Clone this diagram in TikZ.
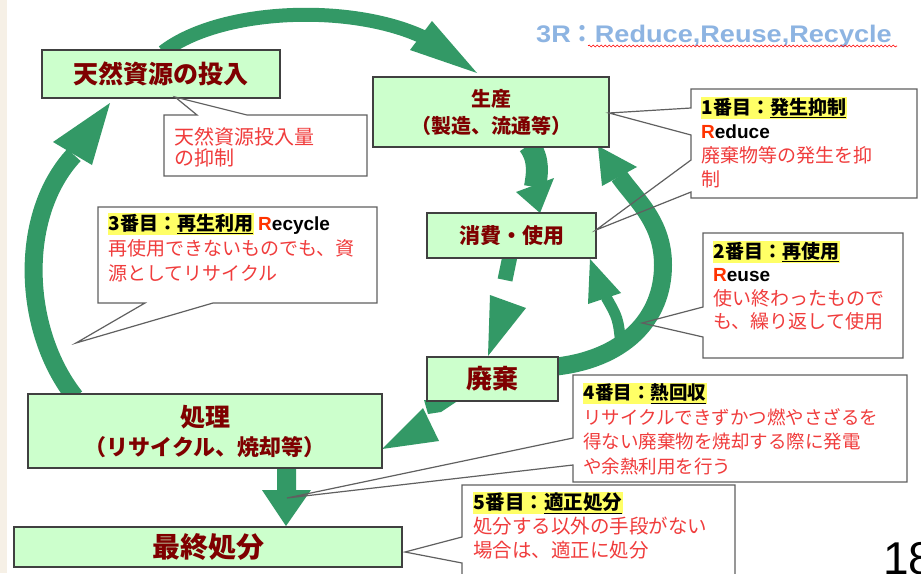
\documentclass[tikz,border=0pt]{standalone}
\usepackage{fontspec}
\setmainfont{Noto Sans CJK JP}
\newfontfamily\latb{Liberation Sans}
\newfontfamily\titlef[FakeStretch=1.13]{Liberation Sans}
\usetikzlibrary{decorations.pathmorphing}
\definecolor{boxgreen}{HTML}{CCFFCC}
\definecolor{boxborder}{HTML}{404040}
\definecolor{lblred}{HTML}{7F0000}
\definecolor{cred}{HTML}{F03C3C}
\definecolor{rred}{HTML}{FF3300}
\definecolor{agreen}{HTML}{339966}
\definecolor{hlyellow}{HTML}{FFFF66}
\definecolor{cgray}{HTML}{606060}
\definecolor{titleblue}{HTML}{8DB4E2}
\definecolor{beige}{HTML}{F6F0E6}
\newcommand{\hly}[1]{{\setlength{\fboxsep}{0.6pt}\colorbox{hlyellow}{#1}}}
\newcommand{\Rw}[2]{{\latb\bfseries\textcolor{rred}{#1}#2}}
\begin{document}
\begin{tikzpicture}[x=1pt,y=-1pt,
  box/.style={draw=boxborder, fill=boxgreen, line width=1.4pt, text=lblred, inner sep=0pt, align=center},
  shaftline/.style={draw=agreen},
  headfill/.style={fill=agreen},
  cpath/.style={draw=cgray, line width=1.2pt, line join=miter},
  ctext/.style={anchor=north west, inner sep=0pt, align=left}]
\useasboundingbox (0,0) rectangle (921,573);
\fill[white] (0,0) rectangle (921,573);
\fill[beige] (0,0) rectangle (7,573);

% callout outlines (saved), white fill first
\path[save path=\cA] (164,115) -- (197,115) -- (175,97) -- (247,115) -- (367,115) -- (367,176) -- (164,176) -- cycle;
\path[save path=\cB] (691,89) -- (917,89) -- (917,198) -- (691,198) -- (691,192) -- (596,230) -- (691,160) -- (691,135) -- (609,113) -- (691,108) -- cycle;
\path[save path=\cC] (703,233) -- (903,233) -- (903,358) -- (703,358) -- (703,337) -- (642,323) -- (703,307) -- cycle;
\path[save path=\cD] (98,207) -- (377,207) -- (377,303) -- (213,303) -- (76,343) -- (145,303) -- (98,303) -- cycle;
\path[save path=\cE] (573,375) -- (907,375) -- (907,482) -- (573,482) -- (573,465) -- (287,498) -- (573,438) -- cycle;
\path[save path=\cF] (462,485) -- (735,485) -- (735,585) -- (462,585) -- (462,563) -- (405,552) -- (462,537) -- cycle;
\foreach \p in {\cA,\cB,\cC,\cD,\cE,\cF} {\fill[white, use path=\p];}

% arrows
% top arc: resources -> production
\coordinate (a1s) at (163,52);
\coordinate (a1e) at (423,37);
\draw[shaftline, line width=14pt] (a1s) .. controls (220,8) and (350,3) .. (a1e);
\fill[headfill] (410,50) -- (432,21) -- (477,73) -- cycle;
% left arc: treatment -> resources
\coordinate (a2s) at (75,397);
\coordinate (a2e) at (74,155);
\draw[shaftline, line width=18pt] (a2s) .. controls (22,330) and (18,215) .. (a2e);
\fill[headfill] (53,142) -- (92,165) -- (110,103) -- cycle;
% production -> consumption
\draw[shaftline, line width=22pt] (529,145) .. controls (540,160) and (537,175) .. (535,187);
\fill[headfill] (516,192) -- (554,178) -- (540,213) -- cycle;
% consumption -> waste
\draw[shaftline, line width=15pt] (510,256) -- (505,280);
\fill[headfill] (490,295) -- (526,308) -- (488,356) -- cycle;
% waste -> production (big right arc)
\draw[shaftline, line width=18pt] (552,367) .. controls (625,360) and (663,318) .. (663,265)
   .. controls (663,222) and (636,200) .. (619,176);
\fill[headfill] (602,186) -- (637,167) -- (598,146) -- cycle;
% reuse small arc -> consumption
\draw[shaftline, line width=11pt] (621,345) .. controls (618,318) .. (606,297);
\fill[headfill] (588,304) -- (621,293) -- (590,259) -- cycle;
% waste -> treatment
\fill[headfill] (424,400) -- (459,400) -- (441,412) -- (428,414) -- cycle;
\fill[headfill] (423,408) -- (439,441) -- (382,449) -- cycle;
% treatment -> final disposal
\fill[headfill] (277,466) -- (296,466) -- (296,490) -- (311,490) -- (286,526) -- (262,490) -- (277,490) -- cycle;

% boxes
\node[box, minimum width=238pt, minimum height=48pt, font=\bfseries\fontsize{25}{25}\selectfont] (res) at (161,74) {天然資源の投入};
\node[box, minimum width=236pt, minimum height=70pt, font=\bfseries\fontsize{20}{27}\selectfont] (prod) at (491,112) {生産\\（製造、流通等）};
\node[box, minimum width=169pt, minimum height=45pt, font=\bfseries\fontsize{21}{21}\selectfont] (use) at (511.5,235.5) {消費・使用};
\node[box, minimum width=131pt, minimum height=44pt, font=\bfseries\fontsize{26}{26}\selectfont] (waste) at (492.5,379) {廃棄};
\node[box, minimum width=354pt, minimum height=74pt, font=\bfseries\fontsize{22}{29}\selectfont] (proc) at (205,431) {{\fontsize{25}{29}\selectfont 処理}\\（リサイクル、焼却等）};
\node[box, minimum width=388pt, minimum height=40pt, font=\bfseries\fontsize{28}{28}\selectfont] (final) at (208,547) {最終処分};

% callout outlines
\foreach \p in {\cA,\cB,\cC,\cD,\cE,\cF} {\draw[cpath, use path=\p];}

% callout texts
\node[ctext, text=cred, font=\fontsize{20}{21}\selectfont] (t0) at (174,127) {天然資源投入量\\の抑制};
\node[ctext, font=\fontsize{19}{24}\selectfont] (t1) at (701,97)
  {\hly{\bfseries 1番目：\underline{発生抑制}}\\ \Rw{R}{educe}\\ \textcolor{cred}{廃棄物等の発生を抑}\\ \textcolor{cred}{制}};
\node[ctext, font=\fontsize{19}{23.5}\selectfont] (t2) at (713,241)
  {\hly{\bfseries 2番目：\underline{再使用}}\\ \Rw{R}{euse}\\ \textcolor{cred}{使い終わったもので}\\ \textcolor{cred}{も、繰り返して使用}};
\node[ctext, font=\fontsize{19}{25}\selectfont] (t3) at (108,213)
  {\hly{\bfseries 3番目：\underline{再生利用}} \Rw{R}{ecycle}\\ \textcolor{cred}{再使用できないものでも、資}\\ \textcolor{cred}{源としてリサイクル}};
\node[ctext, font=\fontsize{18.5}{24.5}\selectfont] (t4) at (583,383)
  {\hly{\bfseries 4番目：\underline{熱回収}}\\ \textcolor{cred}{リサイクルできずかつ燃やさざるを}\\ \textcolor{cred}{得ない廃棄物を焼却する際に発電}\\ \textcolor{cred}{や余熱利用を行う}};
\node[ctext, font=\fontsize{19.5}{24}\selectfont] (t5) at (473,492)
  {\hly{\bfseries 5番目：\underline{適正処分}}\\ \textcolor{cred}{処分する以外の手段がない}\\ \textcolor{cred}{場合は、適正に処分}};

% title
\node[anchor=base west, inner sep=0pt, text=titleblue] (title) at (536,42)
  {{\titlef\bfseries\fontsize{24}{24}\selectfont 3R}{\bfseries\fontsize{24}{24}\selectfont ：}{\titlef\bfseries\fontsize{24}{24}\selectfont Reduce,Reuse,Recycle}};
\coordinate (w1) at (588,46);
\coordinate (w2) at (897,46);
\draw[red, line width=0.6pt, decorate, decoration={snake, amplitude=1pt, segment length=4pt}] (w1) -- (w2);

% page number (cut off at the page edge, as in the reference)
\node[anchor=base west, inner sep=0pt, font=\latb\fontsize{46}{46}\selectfont] (pg) at (883,574) {18};
\end{tikzpicture}
\end{document}
